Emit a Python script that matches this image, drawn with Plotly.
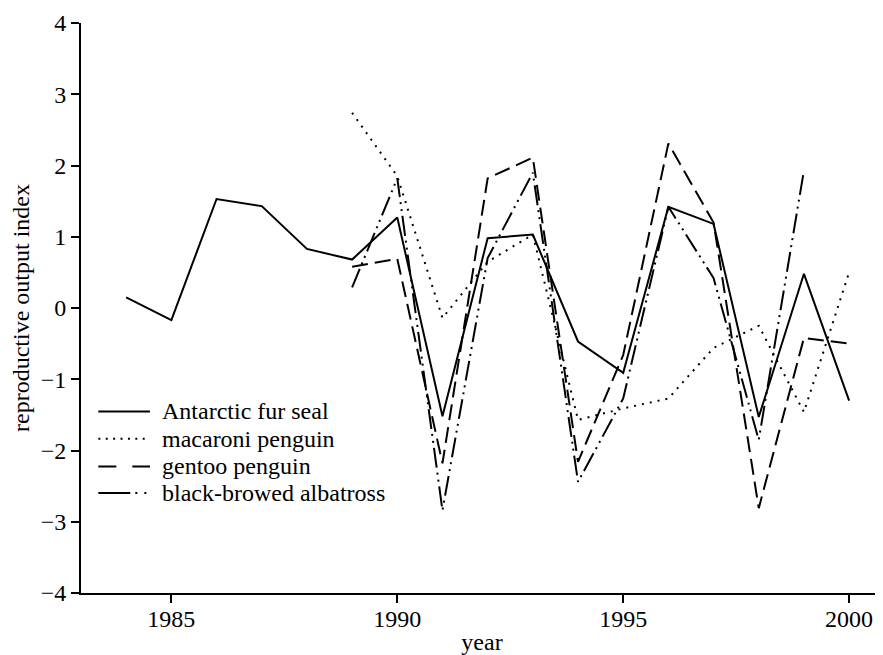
import plotly.graph_objects as go

# ---- data ----
years_seal = [1984, 1985, 1986, 1987, 1988, 1989, 1990, 1991, 1992, 1993,
              1994, 1995, 1996, 1997, 1998, 1999, 2000]
fur_seal = [0.15, -0.17, 1.53, 1.43, 0.83, 0.68, 1.27, -1.52, 0.98, 1.03,
            -0.47, -0.91, 1.42, 1.18, -1.53, 0.48, -1.30]

years_penguin = [1989, 1990, 1991, 1992, 1993, 1994, 1995, 1996, 1997, 1998, 1999, 2000]
macaroni = [2.74, 1.85, -0.14, 0.65, 1.03, -1.57, -1.41, -1.27, -0.56, -0.25, -1.46, 0.50]
gentoo = [0.58, 0.69, -2.18, 1.82, 2.11, -2.16, -0.66, 2.31, 1.20, -2.81, -0.42, -0.50]

years_albatross = [1989, 1990, 1991, 1992, 1993, 1994, 1995, 1996, 1997, 1998, 1999]
albatross = [0.29, 1.82, -2.84, 0.70, 1.90, -2.44, -1.27, 1.42, 0.42, -1.85, 1.93]

series_names = ["Antarctic fur seal", "macaroni penguin", "gentoo penguin",
                "black-browed albatross"]
x_ticks = [1985, 1990, 1995, 2000]
y_ticks = [-4, -3, -2, -1, 0, 1, 2, 3, 4]

# ---- styles ----
FONT = "Liberation Serif"
plot_dash = ["solid", "2px,6px", "16px,7px", "20px,5px,2px,5px,2px,5px"]
legend_dash = ["solid", "2px,5.4px", "18px,16px,18px", "32px,5px,2px,7px,2px,30px"]

fig = go.Figure()
data = [(years_seal, fur_seal), (years_penguin, macaroni),
        (years_penguin, gentoo), (years_albatross, albatross)]
for (xs, ys), name, dash in zip(data, series_names, plot_dash):
    fig.add_trace(go.Scatter(x=xs, y=ys, mode="lines", name=name,
                             line=dict(color="black", width=2, dash=dash),
                             showlegend=False))

# ---- hand-built legend (keys + labels, in paper coordinates) ----
leg_x0, leg_x1, leg_tx = 0.0216, 0.086, 0.0985
leg_rows = [0.3186, 0.2707, 0.2221, 0.1754]
for name, dash, yy in zip(series_names, legend_dash, leg_rows):
    fig.add_shape(type="line", xref="paper", yref="paper",
                  x0=leg_x0, x1=leg_x1, y0=yy, y1=yy,
                  line=dict(color="black", width=2, dash=dash))
    fig.add_annotation(text=name, xref="paper", yref="paper", x=leg_tx, y=yy,
                       xanchor="left", yanchor="middle", showarrow=False,
                       font=dict(family=FONT, size=24, color="black"))

# the page body has an 8px margin, so the figure is 8px smaller and the
# margins are reduced accordingly to land on the reference positions
fig.update_layout(
    width=875, height=647,
    margin=dict(l=73, r=0, t=15, b=62, autoexpand=False),
    paper_bgcolor="white", plot_bgcolor="white",
    font=dict(family=FONT, size=24, color="black"),
    showlegend=False,
)
fig.update_xaxes(
    range=[1983, 2000.75], tickvals=x_ticks, showgrid=False, zeroline=False,
    showline=True, linecolor="black", linewidth=2,
    ticks="outside", ticklen=8, tickwidth=1.5, tickcolor="black",
    ticklabelstandoff=-5,
    title=dict(text="year", standoff=12, font=dict(family=FONT, size=24, color="black")),
    tickfont=dict(family=FONT, size=24, color="black"), automargin=False,
)
fig.update_yaxes(
    range=[-4, 4], tickvals=y_ticks, showgrid=False, zeroline=False,
    showline=True, linecolor="black", linewidth=2,
    ticks="outside", ticklen=8, tickwidth=1.5, tickcolor="black",
    title=dict(text="reproductive output index", standoff=6,
               font=dict(family=FONT, size=24, color="black")),
    tickfont=dict(family=FONT, size=24, color="black"), automargin=False,
)

fig.write_html("out.html")
